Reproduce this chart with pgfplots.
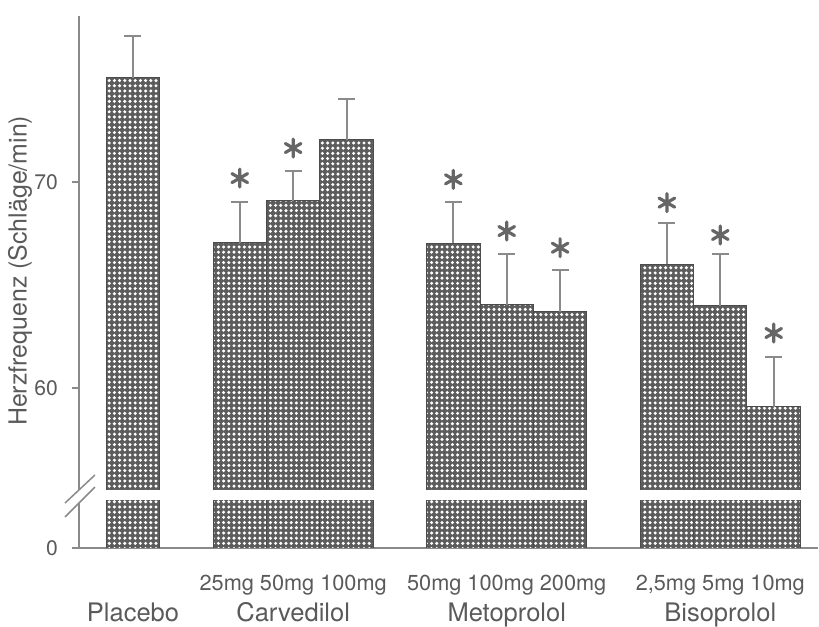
\documentclass[border=0pt]{standalone}
\usepackage{fontspec}
\setmainfont{TeX Gyre Heros}
\usepackage{pgfplots}
\pgfplotsset{compat=1.18}
\usetikzlibrary{patterns.meta}
\definecolor{bargray}{HTML}{5C5C5C}
\definecolor{txt}{HTML}{5A5A5A}
\definecolor{axgray}{HTML}{8A8A8A}
\definecolor{astgray}{HTML}{666666}
\tikzdeclarepattern{
  name=wdots, type=uncolored,
  bounding box={(-1.3bp,-1.3bp) and (1.3bp,1.3bp)},
  tile size={(2.6bp,2.6bp)},
  code={\fill (0,0) circle (0.85bp);}
}
\newcommand\dl[2]{\makebox[0pt]{\fontsize{10.9}{12}\selectfont #1}\makebox[0pt]{\raisebox{-15.5bp}{\fontsize{12.8}{14}\selectfont #2}}}
\pgfplotstableread{
x y e
0 75.05 2.04
2 67.04 1.99
3 69.08 1.45
4 72.04 1.99
6 67.02 1.99
7 64.03 2.47
8 63.70 2.03
10 66.00 2.02
11 64.00 2.49
12 59.08 2.42
}\bars
\pgfplotstableread{
x y
2 70.19
3 71.65
6 70.13
7 67.62
8 66.81
10 69.00
11 67.43
12 62.67
}\stars
\begin{document}
\begin{tikzpicture}
\begin{axis}[
  name=main,
  scale only axis,
  width=369.5bp, height=266bp,
  xmin=-1.011, xmax=12.83,
  ymin=52.233, ymax=78.06,
  axis x line=bottom, axis y line=left,
  axis line style={-, axgray, line width=0.75bp},
  xtick={0,3,7,11},
  xticklabels={{\dl{}{Placebo}},{\dl{25mg 50mg 100mg}{Carvedilol}},{\dl{50mg 100mg 200mg}{Metoprolol}},{\dl{2,5mg 5mg 10mg}{Bisoprolol}}},
  xtick style={draw=none},
  xticklabel style={anchor=base, yshift=-17.5bp, inner sep=0pt, text=txt},
  ytick={52.233,60,70},
  yticklabels={0,60,70},
  ytick style={axgray, line width=0.75bp},
  tick align=outside,
  major tick length=3.5bp,
  yticklabel style={font=\fontsize{10.6}{12}\selectfont, text=txt, xshift=-3.5bp},
  /pgf/number format/assume math mode=true,
  ylabel={Herzfrequenz (Schläge/min)},
  every axis y label/.style={at={(axis description cs:0,0.521)}, xshift=-29.5bp, rotate=90, anchor=center, font=\fontsize{12.5}{14}\selectfont, text=txt},
  clip=true,
]
\addplot[ybar, bar width=1, fill=bargray, draw=black!70, line width=0.5bp,
  postaction={pattern=wdots, pattern color=white},
  error bars/.cd, y dir=plus, y explicit,
  error bar style={axgray, line width=1bp},
  error mark options={axgray, line width=1bp, rotate=90, mark size=4.25bp}]
  table[x=x, y=y, y error=e] {\bars};
\addplot[white, line width=5bp, forget plot] coordinates {(-0.7,54.81) (12.7,54.81)};
\addplot[only marks, mark=asterisk, mark size=4.5bp, astgray, mark options={line width=1.6bp, line cap=round}] table[x=x, y=y] {\stars};
\end{axis}
\begin{axis}[
  scale only axis,
  width=369.5bp, height=266bp,
  xmin=-1.011, xmax=12.83,
  ymin=52.233, ymax=78.06,
  hide axis, clip=false,
]
\addplot[white, line width=2.5bp] coordinates {(-1.011,54.42) (-1.011,55.05)};
\addplot[axgray, line width=0.75bp] coordinates {(-1.273,54.417) (-0.712,55.777)};
\addplot[axgray, line width=0.75bp] coordinates {(-1.273,53.738) (-0.712,55.194)};
\end{axis}
\path ([shift={(-39.5bp,-35.5bp)}]main.south west) rectangle ([shift={(0.5bp,8bp)}]main.north east);
\end{tikzpicture}
\end{document}
